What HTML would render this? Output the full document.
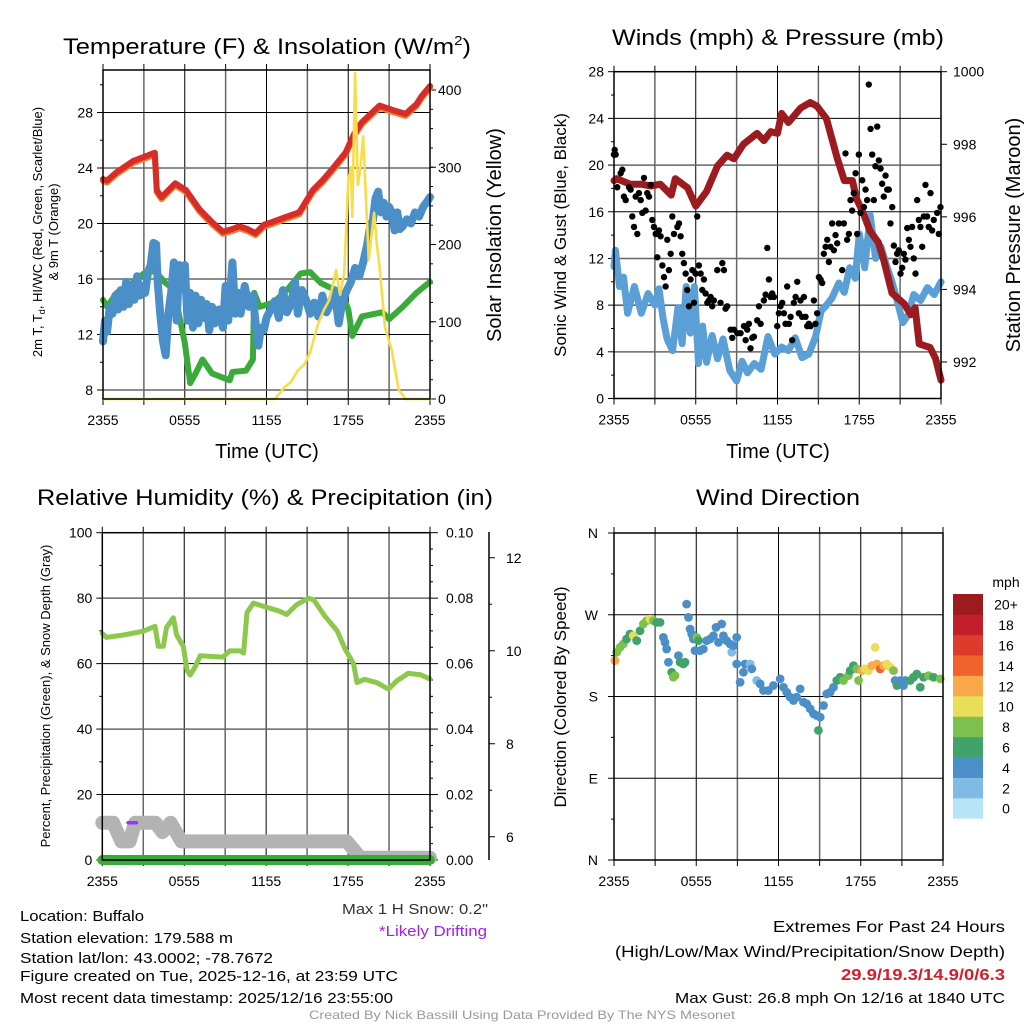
<!DOCTYPE html>
<html><head><meta charset="utf-8"><style>
html,body{margin:0;padding:0;background:#fff;}
svg{display:block;font-family:"Liberation Sans",sans-serif;}
</style></head><body>
<svg id="fig" width="1024" height="1024" viewBox="0 0 1024 1024" xmlns="http://www.w3.org/2000/svg">
<rect width="1024" height="1024" fill="#fff"/>
<g id="titles" fill="#000">
<text x="267" y="54" font-size="22" text-anchor="middle" textLength="408" lengthAdjust="spacingAndGlyphs">Temperature (F) &amp; Insolation (W/m<tspan font-size="13" dy="-9">2</tspan><tspan dy="9">)</tspan></text>
<text x="778" y="45" font-size="22" text-anchor="middle" textLength="332" lengthAdjust="spacingAndGlyphs">Winds (mph) &amp; Pressure (mb)</text>
<text x="265" y="505" font-size="22" text-anchor="middle" textLength="456" lengthAdjust="spacingAndGlyphs">Relative Humidity (%) &amp; Precipitation (in)</text>
<text x="778" y="505" font-size="22" text-anchor="middle" textLength="164" lengthAdjust="spacingAndGlyphs">Wind Direction</text>
<text x="267" y="458" font-size="20" text-anchor="middle">Time (UTC)</text>
<text x="778" y="458" font-size="20" text-anchor="middle">Time (UTC)</text>
<text transform="translate(42,232) rotate(-90)" font-size="13" text-anchor="middle">2m T, T<tspan font-size="9" dy="3">d</tspan><tspan dy="-3">, HI/WC (Red, Green, Scarlet/Blue)</tspan></text>
<text transform="translate(58,232) rotate(-90)" font-size="13" text-anchor="middle">&amp; 9m T (Orange)</text>
<text transform="translate(501,235) rotate(-90)" font-size="20" text-anchor="middle">Solar Insolation (Yellow)</text>
<text transform="translate(566,235) rotate(-90)" font-size="17" text-anchor="middle">Sonic Wind &amp; Gust (Blue, Black)</text>
<text transform="translate(1020,235) rotate(-90)" font-size="20" text-anchor="middle">Station Pressure (Maroon)</text>
<text transform="translate(50,696) rotate(-90)" font-size="13" text-anchor="middle">Percent, Precipitation (Green), &amp; Snow Depth (Gray)</text>
<text transform="translate(566,697) rotate(-90)" font-size="17" text-anchor="middle">Direction (Colored By Speed)</text>
</g>
<g id="info" font-size="15" fill="#000">
<text x="20" y="921" textLength="124" lengthAdjust="spacingAndGlyphs">Location: Buffalo</text>
<text x="20" y="943" textLength="213" lengthAdjust="spacingAndGlyphs">Station elevation: 179.588 m</text>
<text x="20" y="963" textLength="253" lengthAdjust="spacingAndGlyphs">Station lat/lon: 43.0002; -78.7672</text>
<text x="20" y="981" textLength="378" lengthAdjust="spacingAndGlyphs">Figure created on Tue, 2025-12-16, at 23:59 UTC</text>
<text x="20" y="1003" textLength="373" lengthAdjust="spacingAndGlyphs">Most recent data timestamp: 2025/12/16 23:55:00</text>
<text x="488" y="914" text-anchor="end" fill="#333" textLength="146" lengthAdjust="spacingAndGlyphs">Max 1 H Snow: 0.2"</text>
<text x="487" y="936" text-anchor="end" fill="#a020f0" textLength="108" lengthAdjust="spacingAndGlyphs">*Likely Drifting</text>
<text x="1005" y="932" text-anchor="end" font-size="16" textLength="232" lengthAdjust="spacingAndGlyphs">Extremes For Past 24 Hours</text>
<text x="1005" y="957" text-anchor="end" font-size="16" textLength="390" lengthAdjust="spacingAndGlyphs">(High/Low/Max Wind/Precipitation/Snow Depth)</text>
<text x="1005" y="980" text-anchor="end" font-size="16" font-weight="bold" fill="#d0202a" textLength="164" lengthAdjust="spacingAndGlyphs">29.9/19.3/14.9/0/6.3</text>
<text x="1005" y="1003" text-anchor="end" textLength="330" lengthAdjust="spacingAndGlyphs">Max Gust: 26.8 mph On 12/16 at 1840 UTC</text>
<text x="522" y="1019" text-anchor="middle" font-size="12" fill="#999" textLength="426" lengthAdjust="spacingAndGlyphs">Created By Nick Bassill Using Data Provided By The NYS Mesonet</text>
</g>
</svg>
<script>
// ---------- DATA ----------
const timeTickLabels = ["2355","0555","1155","1755","2355"];
const timeTickHours = [0,6,12,18,24];
const tempTicks = [8,12,16,20,24,28];
const insolTicks = [0,100,200,300,400];
const windTicks = [0,4,8,12,16,20,24,28];
const pressTicks = [992,994,996,998,1000];
const rhTicks = [0,20,40,60,80,100];
const precipTicks = ["0.00","0.02","0.04","0.06","0.08","0.10"];
const snowTicks = [6,8,10,12];
const dirTickLabels = ["N","E","S","W","N"];
const dirTickValues = [0,90,180,270,360];
const speedBinLabels = ["0","2","4","6","8","10","12","14","16","18","20+"];
const speedBinColors = ["#b8e4f8","#7fbbe5","#4b8fc8","#41a36b","#7cc14d","#e8de58","#f9a84a","#f0642b","#dd3b2c","#c1202b","#9b1b1e"];

const tempT = [[0,23.2],[0.3,23.1],[1,23.7],[2.2,24.5],[3,24.8],[3.8,25.1],[3.95,22.4],[4.3,21.9],[4.8,22.4],[5.3,22.9],[6.1,22.4],[7.1,21.0],[8.0,20.1],[8.8,19.4],[9.5,19.6],[10.0,19.8],[10.6,19.6],[11.2,19.3],[11.8,19.9],[12.4,20.1],[13.5,20.5],[14.4,20.8],[15.4,22.4],[16.2,23.2],[16.8,23.9],[17.8,25.1],[18.4,26.4],[19.0,27.3],[20.3,28.5],[21.2,28.2],[22.2,27.9],[23.0,28.6],[23.4,29.2],[24,29.9]];
const tempTd = [[0,14.5],[0.3,14.0],[1,15.0],[2,15.6],[3,16.4],[3.8,16.6],[4.5,15.8],[5,15.4],[5.5,13.8],[6,11.4],[6.4,8.5],[6.8,9.2],[7.3,10.2],[8,9.2],[9.3,8.7],[9.5,9.3],[10.5,9.4],[11,10.2],[11.1,15.0],[11.5,14.0],[12.5,14.3],[13.5,15.2],[14.5,16.4],[15.2,16.5],[16,15.7],[17.5,15.0],[18.0,13.8],[18.3,11.9],[19,13.3],[20.5,13.6],[21,13.1],[22,14.0],[23,15.0],[24,15.8]];
const tempHIWC = [[0,11.5],[0.15,13],[0.3,12.2],[0.5,14],[0.7,13.5],[0.9,14.8],[1.1,13.8],[1.3,15.2],[1.5,14],[1.7,15.8],[1.9,14.2],[2.1,15.5],[2.3,14.5],[2.5,16.2],[2.7,14.8],[2.9,15.5],[3.1,15],[3.3,16.5],[3.5,17],[3.7,18.6],[3.9,18.5],[4.0,16],[4.2,13.5],[4.4,11.5],[4.6,10.5],[4.8,13.5],[5.0,15],[5.2,17.2],[5.4,13],[5.6,17],[5.8,16],[6.0,17],[6.2,13],[6.4,15],[6.6,12.5],[6.8,14.8],[7.0,12.8],[7.2,14.5],[7.4,13.2],[7.6,14.2],[7.8,12.3],[8.0,14],[8.2,12.8],[8.5,13.8],[8.8,12.5],[9.0,15.5],[9.2,13],[9.5,17.2],[9.7,13.5],[9.9,15],[10.1,13.5],[10.4,15.5],[10.7,14],[11.0,14.8],[11.2,12.8],[11.4,11.2],[11.6,12.5],[11.8,12.3],[12.0,13.2],[12.3,13.8],[12.6,14.4],[12.9,13.2],[13.2,15.2],[13.5,13.6],[13.8,14.2],[14.1,15.8],[14.3,13.5],[14.6,15.2],[14.9,14.5],[15.2,13.5],[15.5,14.3],[15.8,13.3],[16.1,14.8],[16.4,13.6],[16.7,14.2],[17.0,15.2],[17.3,12.8],[17.6,14.5],[17.9,15.2],[18.2,15.8],[18.5,16.8],[18.8,16.2],[19.1,17.2],[19.4,18.5],[19.6,19.8],[19.8,20.2],[20.0,21.8],[20.2,22.3],[20.4,20.8],[20.6,21.5],[20.8,20.5],[21.0,21.2],[21.2,20.8],[21.4,19.5],[21.6,20.8],[21.8,19.6],[22.0,19.8],[22.3,20.3],[22.6,20],[22.9,20.8],[23.2,20.5],[23.5,21.2],[23.8,21.6],[24,21.9]];
const insolation = [[0,0],[12.6,0],[13.0,8],[13.3,15],[13.8,22],[14.3,37],[14.8,45],[15.2,60],[15.8,98],[16.2,115],[16.6,128],[16.9,150],[17.1,167],[17.4,135],[17.7,163],[18.0,283],[18.2,300],[18.3,236],[18.5,422],[18.7,277],[18.9,300],[19.1,340],[19.5,180],[19.9,241],[20.1,200],[20.3,171],[20.7,93],[21.2,63],[21.7,12],[22.2,0],[24,0]];

const windSpeed = [[0,11.3],[0.1,12.7],[0.4,9.6],[0.7,10.4],[1,7.3],[1.5,9.6],[2,7.3],[2.5,9.0],[3,8.0],[3.3,9.4],[3.6,6.9],[3.9,5.1],[4.3,4.1],[4.7,7.8],[5,4.7],[5.3,9.6],[5.6,5.6],[5.9,9.6],[6.2,3.0],[6.5,6.2],[6.8,3.1],[7.2,5.4],[7.6,3.4],[8,5.1],[8.5,2.4],[9,1.5],[9.4,3.2],[9.8,2.2],[10.3,3.0],[10.8,2.5],[11.3,5.3],[11.8,3.8],[12.3,4.4],[12.8,4.1],[13.3,5.2],[13.8,3.5],[14.3,3.8],[14.8,5.3],[15.2,7.5],[15.6,8.0],[16,8.6],[16.5,9.9],[16.9,9.1],[17.3,11.2],[17.7,10.3],[18,14.1],[18.4,11.2],[18.8,15.7],[19.2,12.0],[19.6,13.0],[20,11.4],[20.4,10.0],[20.8,8.3],[21.2,6.5],[21.6,7.2],[22,8.9],[22.5,8.4],[23,9.5],[23.5,8.9],[24,10.0]];
const gusts = [[0,20.9],[0.05,21.3],[0.12,20.9],[0.24,18.1],[0.49,19.3],[0.61,19.6],[0.73,17.3],[0.86,17.0],[1.1,18.1],[1.22,17.9],[1.34,15.6],[1.47,14.7],[1.59,17.3],[1.71,14.1],[1.83,17.6],[1.96,17.0],[2.08,15.9],[2.2,18.9],[2.32,16.1],[2.44,17.6],[2.57,17.3],[2.69,18.3],[2.81,15.3],[2.93,14.7],[3.06,14.1],[3.18,12.1],[3.3,14.4],[3.42,13.9],[3.55,11.4],[3.67,10.4],[3.79,9.6],[3.91,13.6],[4.03,11.0],[4.16,12.4],[4.28,15.6],[4.4,14.1],[4.65,14.7],[4.77,15.0],[4.89,13.9],[5.01,12.4],[5.13,11.6],[5.26,10.7],[5.38,9.3],[5.5,7.9],[5.62,10.2],[5.75,11.0],[5.87,8.2],[5.99,10.7],[6.11,15.6],[6.23,11.4],[6.36,10.7],[6.48,9.3],[6.6,10.2],[6.72,9.0],[6.85,8.2],[6.97,8.4],[7.09,8.7],[7.21,7.9],[7.33,8.4],[7.58,11.0],[7.82,8.2],[7.95,11.6],[8.07,11.0],[8.19,7.7],[8.31,7.9],[8.56,5.9],[8.68,5.2],[8.8,5.9],[9.05,5.6],[9.29,5.6],[9.54,6.2],[9.66,5.0],[9.78,5.9],[9.9,6.4],[10.02,4.3],[10.15,5.2],[10.27,5.3],[10.51,6.7],[10.64,7.9],[10.76,6.4],[11.0,8.4],[11.13,8.9],[11.25,12.9],[11.37,10.2],[11.49,8.7],[11.61,9.0],[11.74,8.7],[11.98,6.2],[12.1,7.3],[12.22,7.9],[12.35,8.2],[12.47,7.3],[12.59,6.4],[12.71,9.6],[12.84,6.4],[12.96,7.0],[13.08,5.0],[13.2,8.2],[13.33,8.7],[13.45,10.0],[13.57,7.3],[13.69,8.4],[13.81,7.0],[13.94,8.7],[14.06,7.0],[14.18,6.2],[14.3,6.4],[14.43,6.2],[14.67,8.4],[14.79,6.4],[14.91,7.3],[15.04,10.4],[15.16,10.2],[15.28,9.9],[15.4,12.4],[15.53,13.0],[15.65,13.6],[15.77,11.7],[15.89,13.0],[16.01,15.0],[16.14,12.7],[16.26,14.0],[16.38,13.3],[16.5,15.0],[16.75,11.0],[16.87,15.0],[16.99,21.0],[17.11,13.6],[17.24,14.1],[17.36,17.0],[17.48,16.1],[17.6,17.6],[17.73,19.3],[17.85,14.1],[17.97,20.9],[18.09,15.9],[18.22,18.7],[18.34,16.4],[18.46,17.9],[18.58,17.0],[18.7,26.9],[18.83,23.1],[18.95,20.9],[19.07,17.0],[19.19,19.9],[19.32,23.3],[19.44,20.4],[19.56,19.7],[19.68,18.4],[19.8,17.3],[19.93,19.1],[20.05,17.9],[20.17,17.9],[20.29,15.0],[20.42,16.4],[20.54,13.1],[20.66,11.7],[20.78,12.4],[20.9,12.7],[21.03,10.7],[21.15,11.2],[21.27,12.4],[21.39,11.9],[21.52,14.6],[21.64,13.6],[21.76,13.0],[21.88,14.7],[22.0,12.0],[22.13,10.7],[22.25,17.0],[22.37,15.3],[22.49,14.7],[22.62,13.0],[22.74,15.6],[22.86,18.3],[22.98,15.6],[23.1,14.7],[23.23,17.6],[23.35,14.4],[23.47,15.3],[23.72,15.9],[23.84,14.1],[23.96,16.4]];
const pressure = [[0,997.0],[0.2,997.05],[1.2,996.9],[2.0,996.9],[2.7,996.85],[3.4,996.9],[4.2,996.6],[4.5,997.05],[5.4,996.8],[6.0,996.3],[6.8,996.7],[7.6,997.4],[8.3,997.7],[8.8,997.6],[9.5,998.0],[10.5,998.3],[11.0,998.1],[11.5,998.35],[12.0,998.3],[12.3,998.85],[12.8,998.6],[13.7,999.0],[14.4,999.15],[14.9,999.05],[15.6,998.7],[16.4,997.6],[16.9,997.0],[17.5,997.0],[17.8,996.5],[18.3,996.1],[18.8,995.6],[19.4,995.3],[19.8,994.8],[20.4,993.9],[21.3,993.6],[21.8,993.3],[22.1,993.5],[22.4,992.5],[23.2,992.4],[23.6,992.1],[24,991.5]];

const rh = [[0,69.2],[0.3,68.0],[1.5,68.7],[3.0,69.9],[3.86,71.4],[4.1,65.3],[4.47,65.3],[4.7,71.0],[5.2,74.0],[5.45,68.7],[5.94,65.2],[6.2,58.0],[6.43,56.5],[6.8,59.0],[7.17,62.4],[8.84,62.0],[9.33,63.9],[10.1,63.9],[10.35,63.2],[10.6,75.6],[11.06,78.5],[11.8,77.5],[13.0,76.0],[13.5,75.0],[14.24,78.0],[15.1,80.0],[15.5,79.4],[16.3,74.5],[17.2,70.0],[17.8,64.3],[18.4,60.0],[18.65,54.2],[19.2,55.2],[20.1,54.2],[20.95,52.2],[21.6,54.8],[22.4,57.0],[23.3,56.6],[24,55.3]];
const snowDepth = [[0,6.3],[0.8,6.3],[1.4,5.9],[2.0,5.9],[2.4,6.3],[3.9,6.3],[4.4,6.1],[5.0,6.3],[5.8,5.9],[17.9,5.9],[18.9,5.55],[24,5.55]];
const precip = [[0,0],[24,0]];
const driftFlag = [[1.9,6.3],[2.5,6.3]];

const windDir = [[0.07,219.5,13],[0.2,228.7,9],[0.44,234.1,9],[0.68,237.8,9],[0.92,243.3,7],[1.17,248.8,7],[1.41,246.9,10],[1.66,241.5,6],[1.9,252.4,7],[2.14,259.8,9],[2.38,263.4,9],[2.63,265.2,10],[2.87,263.4,9],[3.11,261.6,6],[3.36,261.6,7],[3.6,245.1,5],[3.72,239.6,4],[3.84,232.3,5],[3.97,217.7,4],[4.21,206.7,7],[4.33,201.2,9],[4.45,203.0,9],[4.7,225,5],[4.82,217.7,7],[5.06,215.8,7],[5.18,217.7,7],[5.3,281.7,4],[5.43,267.1,4],[5.55,254.3,4],[5.67,248.8,4],[5.79,243.3,4],[5.91,230.5,4],[6.03,245.1,8],[6.16,241.5,7],[6.28,230.5,5],[6.52,232.3,4],[6.76,241.5,4],[7.01,243.3,4],[7.25,246.9,4],[7.44,256.1,5],[7.62,239.6,4],[7.86,259.8,4],[7.98,246.9,5],[8.22,241.5,4],[8.47,237.8,4],[8.59,228.7,2],[8.71,236.0,4],[8.95,245.1,4],[8.95,215.8,4],[9.2,195.7,4],[9.44,206.7,4],[9.56,215.8,4],[9.93,215.8,2],[10.05,210.4,4],[10.41,197.6,2],[10.66,193.9,4],[10.9,186.6,4],[11.26,186.6,5],[11.63,192.1,4],[12.12,199.4,4],[12.36,190.2,4],[12.6,184.7,4],[12.85,179.3,4],[13.09,175.6,4],[13.33,179.3,4],[13.58,188.4,4],[13.82,173.8,4],[14.06,171.9,4],[14.31,166.5,4],[14.55,161.0,4],[14.79,159.1,4],[14.91,142.7,6],[15.04,157.3,4],[15.28,170.1,5],[15.52,182.9,5],[15.77,184.7,5],[16.01,190.2,5],[16.25,197.6,7],[16.5,201.2,7],[16.74,197.6,9],[17.1,203.0,9],[17.23,208.5,7],[17.47,214.0,7],[17.71,210.4,9],[17.84,197.6,9],[18.08,208.5,12],[18.32,210.4,10],[18.56,208.5,10],[18.81,214.0,13],[19.05,234.1,10],[19.17,215.8,12],[19.42,210.4,14],[19.66,214.0,12],[19.9,215.8,10],[20.15,212.2,10],[20.39,208.5,9],[20.51,197.6,5],[20.64,192.1,6],[20.88,197.6,5],[21.12,192.1,4],[21.24,197.6,5],[21.61,197.6,7],[21.85,201.2,6],[22.09,204.8,6],[22.34,190.2,7],[22.58,201.2,7],[22.94,203.0,9],[23.31,201.2,7],[23.8,199.4,9]];

// ---------- HELPERS ----------
const NS = "http://www.w3.org/2000/svg";
const svg = document.getElementById("fig");
function mk(tag, attrs, parent) {
  const e = document.createElementNS(NS, tag);
  for (const k in attrs) e.setAttribute(k, attrs[k]);
  (parent || svg).appendChild(e);
  return e;
}
function lin(d0, d1, r0, r1) { return v => r0 + (v - d0) * (r1 - r0) / (d1 - d0); }
function pathFrom(pts, fx, fy) { return pts.map((p, i) => (i ? "L" : "M") + fx(p[0]).toFixed(1) + " " + fy(p[1]).toFixed(1)).join(" "); }

function panel(name, L, R, T, B, xs) {
  const g = mk("g", {});
  
  
  for (let h = 3; h < 24; h += 3) {
    const x = xs(h);
    const gl = mk("line", {x1: x, x2: x, y1: T, y2: B, stroke: h % 6 === 0 ? "#000" : "#666", "stroke-width": h % 6 === 0 ? 1 : 1.5}, g);
    
    
  }
  for (let h = 0; h <= 24; h += 3) {
    const x = xs(h);
    const tk = mk("line", {x1: x, x2: x, y1: T, y2: T - 6, stroke: "#000"}, g);
    
    
    const bt = mk("line", {x1: x, x2: x, y1: B, y2: B + 6, stroke: "#000"}, g);
    
    
  }
  timeTickHours.forEach((h, i) => {
    const t = mk("text", {x: xs(h), y: B + 26, "font-size": 14, "text-anchor": "middle"}, g);
    t.textContent = timeTickLabels[i];
    
    
  });
  return g;
}
function hgrid(g, L, R, y, dark) {
  const l = mk("line", {x1: L, x2: R, y1: y, y2: y, stroke: dark ? "#000" : "#666", "stroke-width": dark ? 1 : 1.5}, g);
  
  
}
function ylab(g, x, y, txt, anchor, size, name) {
  const t = mk("text", {x: x, y: y + 5, "font-size": size || 14, "text-anchor": anchor}, g);
  t.textContent = txt;
  
  
}
function tick(g, x1, x2, y, name) {
  const l = mk("line", {x1: x1, x2: x2, y1: y, y2: y, stroke: "#000"}, g);
  
  
}
function frame(g, L, R, T, B) {
  const r = mk("rect", {x: L, y: T, width: R - L, height: B - T, fill: "none", stroke: "#000", "stroke-width": 1.5}, g);
  
  
}
function line(g, d, color, w, name) {
  const p = mk("path", {d: d, fill: "none", stroke: color, "stroke-width": w, "stroke-linejoin": "round", "stroke-linecap": "round"}, g);
  
  
  return p;
}

// ---------- PANEL 1: Temperature ----------
{
  const L = 103, R = 430, T = 70, B = 399;
  const xs = lin(0, 24, L, R);
  const ys = lin(8, 28, 390, 112.5);
  const yi = lin(0, 400, 399, 90);
  const g = panel("temperature-panel", L, R, T, B, xs);
  tempTicks.forEach(v => { hgrid(g, L, R, ys(v), v % 8 !== 0); tick(g, L - 6, L, ys(v), 'temp-y-tick'); ylab(g, L - 10, ys(v), String(v), "end", 14, 'temp-y-tick-label'); });
  for (let v = 10; v < 31; v += 4) tick(g, L - 3, L, ys(v), 'temp-minor-tick');
  insolTicks.forEach(v => { tick(g, R, R + 6, yi(v), 'insolation-y-tick'); ylab(g, R + 8, yi(v), String(v), "start", 14, 'insolation-y-tick-label'); });
  for (let v = 25; v < 425; v += 25) tick(g, R, R + 3, yi(v), 'insolation-minor-tick');
  line(g, pathFrom(tempTd, xs, ys), "#3aab3a", 6, 'dewpoint-line');
  line(g, pathFrom(tempHIWC, xs, ys), "#4a8fc8", 8, 'heat-index-wind-chill-line');
  line(g, pathFrom(tempT, xs, v => ys(v) + 2), "#f07a2a", 6, 'temp-9m-line');
  line(g, pathFrom(tempT, xs, ys), "#d62d28", 6, 'temp-2m-line');
  line(g, pathFrom(insolation, xs, yi), "#f8dc4a", 2.6, 'insolation-line');
  frame(g, L, R, T, B);
}

// ---------- PANEL 2: Winds ----------
{
  const L = 614, R = 941, T = 71.7, B = 398.5;
  const xs = lin(0, 24, L, R);
  const ys = lin(0, 28, B, T);
  const yp = lin(992, 1000, 362, 71.7);
  const g = panel("winds-panel", L, R, T, B, xs);
  windTicks.forEach(v => { if (v > 0 && v < 28) hgrid(g, L, R, ys(v), v % 8 !== 4); tick(g, L - 6, L, ys(v), 'wind-y-tick'); ylab(g, L - 10, ys(v), String(v), "end", 14, 'wind-y-tick-label'); });
  for (let v = 2; v < 28; v += 4) tick(g, L - 3, L, ys(v), 'wind-minor-tick');
  pressTicks.forEach(v => { tick(g, R, R + 6, yp(v), 'pressure-y-tick'); ylab(g, R + 12, yp(v), String(v), "start", 14, 'pressure-y-tick-label'); });
  line(g, pathFrom(windSpeed, xs, ys), "#5a9fd6", 7, 'wind-speed-line');
  line(g, pathFrom(pressure, xs, yp), "#9b1b1e", 7, 'pressure-line');
  gusts.forEach(p => {
    const c = mk("circle", {cx: xs(p[0]), cy: ys(p[1]), r: 3.2, fill: "#000"}, g);
    
    
  });
  frame(g, L, R, T, B);
}

// ---------- PANEL 3: RH ----------
{
  const L = 102.3, R = 430, T = 532.7, B = 860;
  const xs = lin(0, 24, L, R);
  const ys = lin(0, 100, B, T);
  const snowY = v => 860 - (v - 5.5) * 46.5;
  const g = panel("humidity-panel", L, R, T, B, xs);
  rhTicks.forEach((v, i) => { if (v > 0 && v < 100) hgrid(g, L, R, ys(v), v % 40 !== 0); tick(g, L - 6, L, ys(v), 'rh-y-tick'); ylab(g, L - 10, ys(v), String(v), "end", 14, 'rh-y-tick-label'); tick(g, R, R + 8, ys(v), 'precip-y-tick'); ylab(g, R + 16, ys(v), precipTicks[i], "start", 14, 'precip-y-tick-label'); });
  for (let v = 5; v < 100; v += 5) if (v % 20) tick(g, R, R + 3, ys(v), 'precip-minor-tick');
  for (let v = 10; v < 100; v += 20) tick(g, L - 3, L, ys(v), 'rh-minor-tick');
  const ax = mk("line", {x1: 489, x2: 489, y1: 532, y2: 860, stroke: "#000", "stroke-width": 1.5}, g);
  
  
  snowTicks.forEach(v => { tick(g, 489, 495, snowY(v), 'snow-y-tick'); ylab(g, 506, snowY(v), String(v), "start", 14, 'snow-y-tick-label'); });
  for (let v = 7; v < 13; v += 2) tick(g, 489, 492, snowY(v), 'snow-minor-tick');
  line(g, pathFrom(snowDepth, xs, snowY), "#b3b3b3", 14, 'snow-depth-line');
  line(g, pathFrom(driftFlag, xs, snowY), "#9b30ff", 3.5, 'drift-flag');
  line(g, pathFrom(rh, xs, ys), "#8cc84b", 5, 'rh-line');
  line(g, pathFrom(precip, xs, ys), "#3aab3a", 10, 'precip-line');
  frame(g, L, R, T, B);
}

// ---------- PANEL 4: Wind direction ----------
{
  const L = 614, R = 943, T = 533, B = 860;
  const xs = lin(0, 24, L, R);
  const ys = lin(0, 360, B, T);
  const g = panel("wind-direction-panel", L, R, T, B, xs);
  dirTickValues.forEach((v, i) => { if (v > 0 && v < 360) hgrid(g, L, R, ys(v), true); tick(g, L - 6, L, ys(v), 'direction-y-tick'); ylab(g, L - 16, ys(v), dirTickLabels[i], "end", 14, 'direction-y-tick-label'); });
  for (let v = 45; v < 360; v += 90) tick(g, L - 3, L, ys(v), 'direction-minor-tick');
  windDir.forEach(p => {
    const bin = Math.min(10, Math.floor(p[2] / 2));
    const c = mk("circle", {cx: xs(p[0]), cy: ys(p[1]), r: 4.4, fill: speedBinColors[bin]}, g);
    
    
  });
  frame(g, L, R, T, B);
  const cb = mk("g", {});
  
  
  const top = 594, h = 20.4;
  speedBinColors.forEach((c, i) => {
    const y = top + (10 - i) * h;
    const r = mk("rect", {x: 953, y: y, width: 30, height: h + 0.3, fill: c}, cb);
    
    
    const t = mk("text", {x: 1006, y: y + h / 2 + 5.5, "font-size": 14, "text-anchor": "middle"}, cb);
    t.textContent = speedBinLabels[i];
    
    
  });
  const u = mk("text", {x: 1006, y: 587, "font-size": 14, "text-anchor": "middle"}, cb);
  u.textContent = "mph";
  
  
}
</script>
</body></html>
